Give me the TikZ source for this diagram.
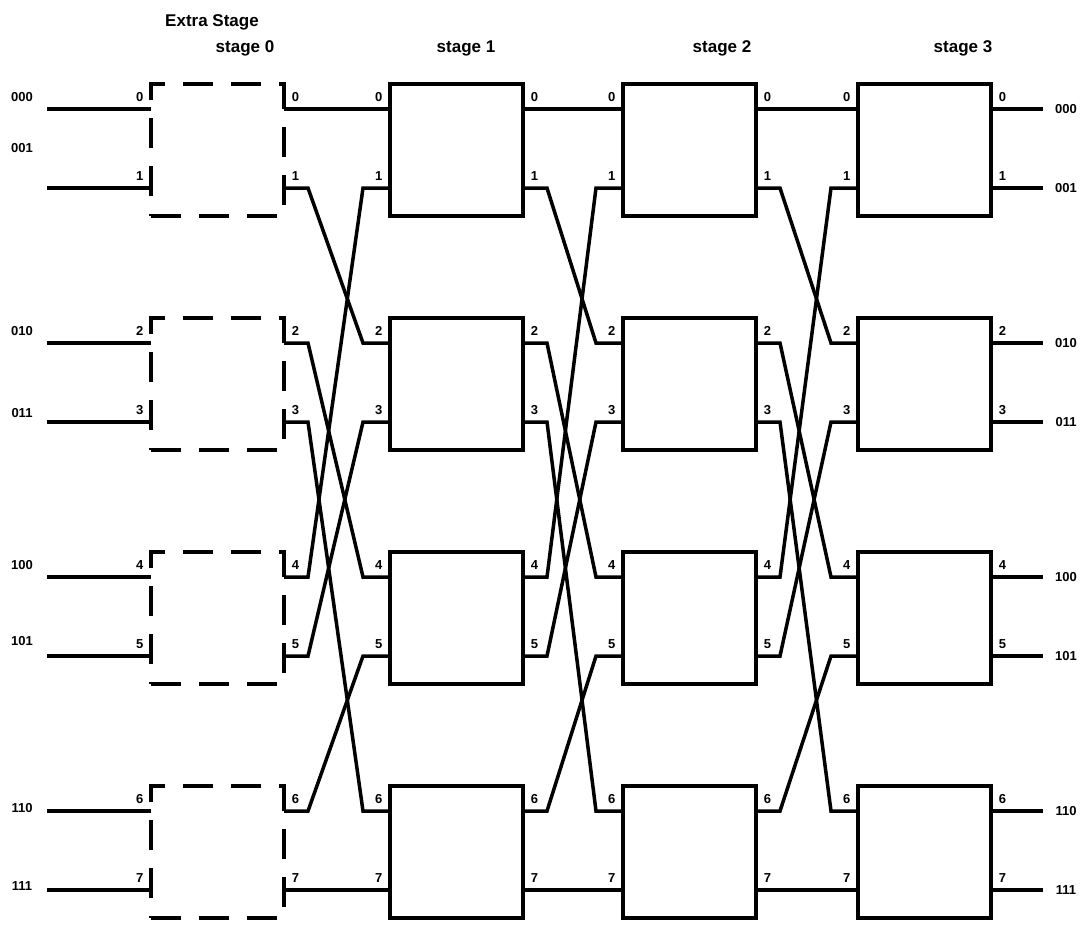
\documentclass[tikz,border=0pt]{standalone}
\usepackage{fontspec}
\setmainfont{Liberation Sans}
\begin{document}
\begin{tikzpicture}[x=1pt,y=-1pt,line width=3.5pt,
  sbox/.style={draw,rectangle,inner sep=0pt,minimum width=133pt,minimum height=132pt},
  dbox/.style={sbox,dash pattern=on 30pt off 18pt},
  plab/.style={font=\bfseries\fontsize{13}{15}\selectfont,inner sep=0pt},
  iolab/.style={font=\bfseries\fontsize{13}{15}\selectfont,inner sep=0pt},
  ttl/.style={font=\bfseries\fontsize{17}{20}\selectfont,inner sep=0pt}]
\useasboundingbox (0,0) rectangle (1083,924);
% titles
\node[ttl] (t00) at (212,22) {Extra Stage};
\node[ttl] (t0) at (245,48) {stage 0};
\node[ttl] (t1) at (466,48) {stage 1};
\node[ttl] (t2) at (722,48) {stage 2};
\node[ttl] (t3) at (963,48) {stage 3};
% boxes and ports
\foreach \s/\L in {0/151,1/390,2/623,3/858}{
  \foreach \k in {0,...,3}{
    \pgfmathsetmacro\T{84+234*\k}
    \ifnum\s=0
      \node[dbox] (b\s\k) at (\L+66.5,\T+66) {};
    \else
      \node[sbox] (b\s\k) at (\L+66.5,\T+66) {};
    \fi
  }
  \foreach \p in {0,...,7}{
    \pgfmathsetmacro\y{84+234*int(\p/2)+25+79*mod(\p,2)}
    \coordinate (i\s\p) at (\L,\y);
    \coordinate (o\s\p) at (\L+133,\y);
    \node[plab,anchor=south east] (li\s\p) at ([xshift=-6pt,yshift=6pt]i\s\p) {\p};
    \node[plab,anchor=south west] (lo\s\p) at ([xshift=6pt,yshift=6pt]o\s\p) {\p};
  }
}
% inter-stage wiring (perfect shuffle)
\foreach \s/\n in {0/1,1/2,2/3}{
  \draw (o\s0) -- (i\n0);
  \draw (o\s7) -- (i\n7);
  \foreach \p in {1,...,6}{
    \pgfmathtruncatemacro\q{mod(2*\p,7)}
    \draw (o\s\p) -- ++(24,0) -- ([xshift=-27pt]i\n\q) -- (i\n\q);
  }
}
% inputs and outputs
\foreach \p/\lab/\ly in {0/000/97,1/001/148,2/010/331,3/011/413,4/100/565,5/101/641,6/110/808,7/111/886}{
  \pgfmathsetmacro\y{84+234*int(\p/2)+25+79*mod(\p,2)}
  \coordinate (in\p) at (47,\y);
  \coordinate (out\p) at (1043,\y);
  \draw (in\p) -- (i0\p);
  \draw (o3\p) -- (out\p);
  \node[iolab] (nin\p) at (22,\ly) {\lab};
  \node[iolab] (nout\p) at (1066,\y) {\lab};
}
\end{tikzpicture}
\end{document}
